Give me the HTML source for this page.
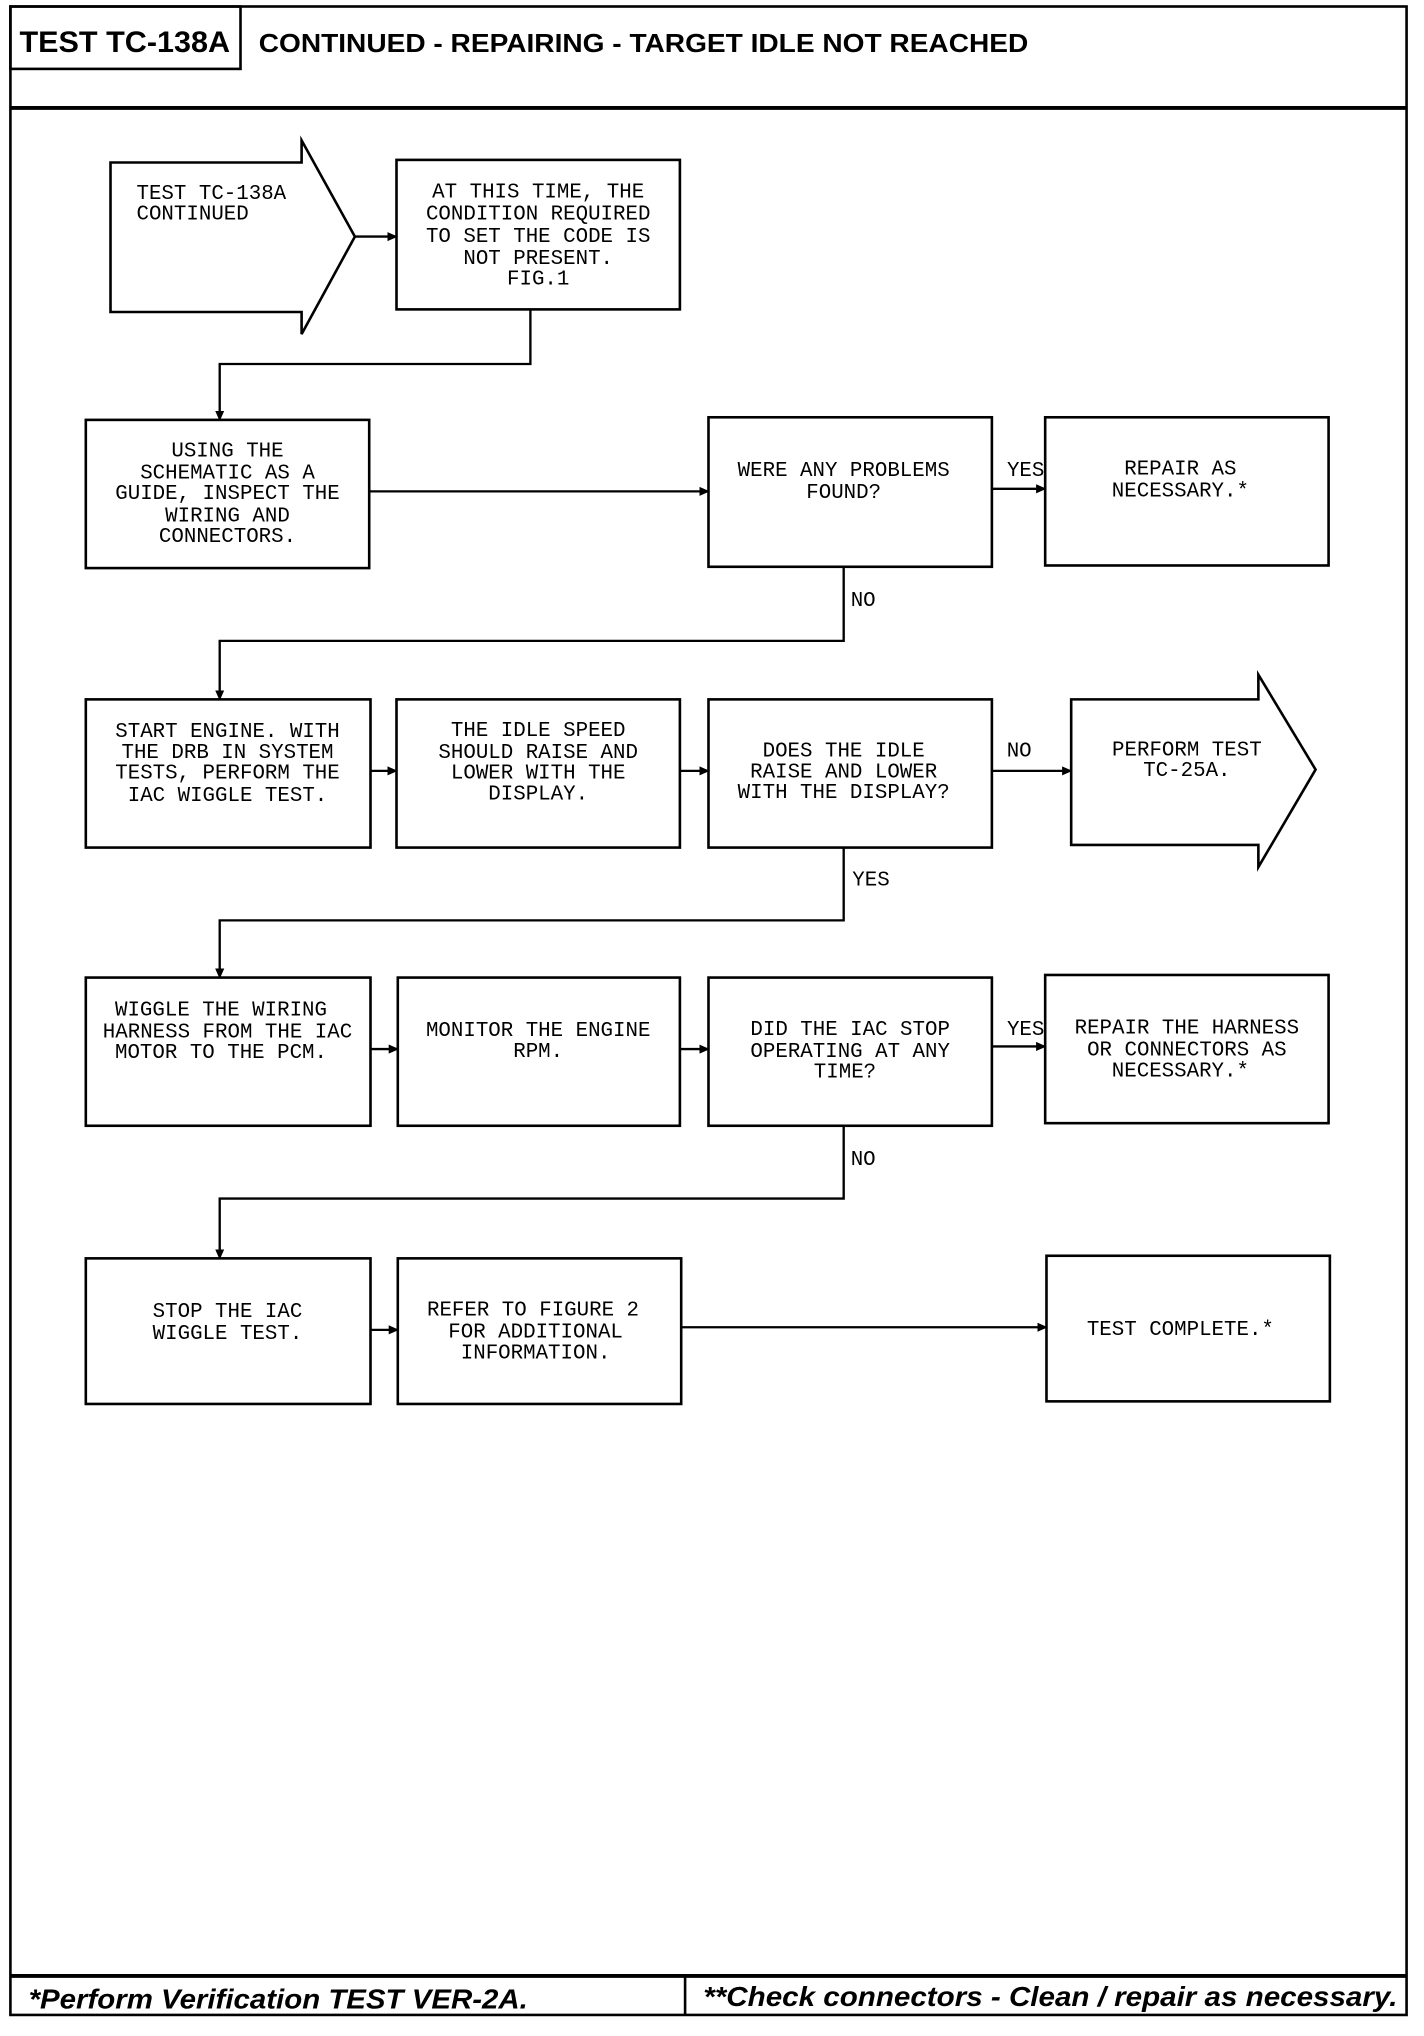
<!DOCTYPE html>
<html><head><meta charset="utf-8"><style>
html,body{margin:0;padding:0;background:#fff;}
svg{display:block}
.b{fill:none;stroke:#000;stroke-width:2}
.l{fill:none;stroke:#000;stroke-width:1.8}
.t{font-family:"Liberation Mono",monospace;font-size:16px;fill:#000;text-anchor:middle}
.h{font-family:"Liberation Sans",sans-serif;font-weight:bold;fill:#000}
</style></head><body>
<svg width="1424" height="2036" viewBox="0 0 1095.4 1566.2" xmlns="http://www.w3.org/2000/svg">
<defs><marker id="a" markerWidth="8" markerHeight="8" refX="7" refY="4" orient="auto" markerUnits="userSpaceOnUse"><path d="M0,0.5 L8,4 L0,7.5 Z" fill="#000"/></marker></defs>
<!-- frame -->
<rect x="8" y="5" width="1074" height="1545" class="b"/>
<line x1="8" y1="83" x2="1082" y2="83" stroke="#000" stroke-width="3"/>
<rect x="8" y="5" width="177" height="48" class="b"/>
<text x="15" y="40" class="h" font-size="23" textLength="162" lengthAdjust="spacingAndGlyphs">TEST TC-138A</text>
<text x="199" y="40" class="h" font-size="20" textLength="592" lengthAdjust="spacingAndGlyphs">CONTINUED - REPAIRING - TARGET IDLE NOT REACHED</text>
<line x1="8" y1="1520" x2="1082" y2="1520" stroke="#000" stroke-width="3"/>
<line x1="527" y1="1520" x2="527" y2="1550" class="b"/>
<text x="22" y="1545" class="h" font-style="italic" font-size="21" textLength="384" lengthAdjust="spacingAndGlyphs">*Perform Verification TEST VER-2A.</text>
<text x="541" y="1543" class="h" font-style="italic" font-size="21" textLength="534" lengthAdjust="spacingAndGlyphs">**Check connectors - Clean / repair as necessary.</text>

<!-- row1 -->
<path d="M85,125 L232,125 L232,108 L273,182 L232,257 L232,240 L85,240 Z" class="b"/>
<text x="105" y="153" class="t" style="text-anchor:start">TEST TC-138A</text>
<text x="105" y="169" class="t" style="text-anchor:start">CONTINUED</text>
<line x1="273" y1="182" x2="305" y2="182" class="l" marker-end="url(#a)"/>
<rect x="305" y="123" width="218" height="115" class="b"/>
<text class="t"><tspan x="414" y="152">AT THIS TIME, THE</tspan><tspan x="414" y="169">CONDITION REQUIRED</tspan><tspan x="414" y="186">TO SET THE CODE IS</tspan><tspan x="414" y="203">NOT PRESENT.</tspan><tspan x="414" y="219">FIG.1</tspan></text>
<path d="M408,238 L408,280 L169,280 L169,323" class="l" marker-end="url(#a)"/>

<!-- row2 -->
<rect x="66" y="323" width="218" height="114" class="b"/>
<text class="t"><tspan x="175" y="351">USING THE</tspan><tspan x="175" y="368">SCHEMATIC AS A</tspan><tspan x="175" y="384">GUIDE, INSPECT THE</tspan><tspan x="175" y="401">WIRING AND</tspan><tspan x="175" y="417">CONNECTORS.</tspan></text>
<line x1="284" y1="378" x2="545" y2="378" class="l" marker-end="url(#a)"/>
<rect x="545" y="321" width="218" height="115" class="b"/>
<text class="t"><tspan x="649" y="366">WERE ANY PROBLEMS</tspan><tspan x="649" y="383">FOUND?</tspan></text>
<line x1="763" y1="376" x2="804" y2="376" class="l" marker-end="url(#a)"/>
<text x="789" y="366" class="t">YES</text>
<rect x="804" y="321" width="218" height="114" class="b"/>
<text class="t"><tspan x="908" y="365">REPAIR AS</tspan><tspan x="908" y="382">NECESSARY.*</tspan></text>
<path d="M649,436 L649,493 L169,493 L169,538" class="l" marker-end="url(#a)"/>
<text x="664" y="466" class="t">NO</text>

<!-- row3 -->
<rect x="66" y="538" width="219" height="114" class="b"/>
<text class="t"><tspan x="175" y="567">START ENGINE. WITH</tspan><tspan x="175" y="583">THE DRB IN SYSTEM</tspan><tspan x="175" y="599">TESTS, PERFORM THE</tspan><tspan x="175" y="616">IAC WIGGLE TEST.</tspan></text>
<line x1="285" y1="593" x2="305" y2="593" class="l" marker-end="url(#a)"/>
<rect x="305" y="538" width="218" height="114" class="b"/>
<text class="t"><tspan x="414" y="566">THE IDLE SPEED</tspan><tspan x="414" y="583">SHOULD RAISE AND</tspan><tspan x="414" y="599">LOWER WITH THE</tspan><tspan x="414" y="615">DISPLAY.</tspan></text>
<line x1="523" y1="593" x2="545" y2="593" class="l" marker-end="url(#a)"/>
<rect x="545" y="538" width="218" height="114" class="b"/>
<text class="t"><tspan x="649" y="582">DOES THE IDLE</tspan><tspan x="649" y="598">RAISE AND LOWER</tspan><tspan x="649" y="614">WITH THE DISPLAY?</tspan></text>
<line x1="763" y1="593" x2="824" y2="593" class="l" marker-end="url(#a)"/>
<text x="784" y="582" class="t">NO</text>
<path d="M824,538 L968,538 L968,519 L1012,592 L968,667 L968,650 L824,650 Z" class="b"/>
<text class="t"><tspan x="913" y="581">PERFORM TEST</tspan><tspan x="913" y="597">TC-25A.</tspan></text>
<path d="M649,652 L649,708 L169,708 L169,752" class="l" marker-end="url(#a)"/>
<text x="670" y="681" class="t">YES</text>

<!-- row4 -->
<rect x="66" y="752" width="219" height="114" class="b"/>
<text class="t"><tspan x="170" y="781">WIGGLE THE WIRING</tspan><tspan x="175" y="798">HARNESS FROM THE IAC</tspan><tspan x="170" y="814">MOTOR TO THE PCM.</tspan></text>
<line x1="285" y1="807" x2="306" y2="807" class="l" marker-end="url(#a)"/>
<rect x="306" y="752" width="217" height="114" class="b"/>
<text class="t"><tspan x="414" y="797">MONITOR THE ENGINE</tspan><tspan x="414" y="813">RPM.</tspan></text>
<line x1="523" y1="807" x2="545" y2="807" class="l" marker-end="url(#a)"/>
<rect x="545" y="752" width="218" height="114" class="b"/>
<text class="t"><tspan x="654" y="796">DID THE IAC STOP</tspan><tspan x="654" y="813">OPERATING AT ANY</tspan><tspan x="650" y="829">TIME?</tspan></text>
<line x1="763" y1="805" x2="804" y2="805" class="l" marker-end="url(#a)"/>
<text x="789" y="796" class="t">YES</text>
<rect x="804" y="750" width="218" height="114" class="b"/>
<text class="t"><tspan x="913" y="795">REPAIR THE HARNESS</tspan><tspan x="913" y="812">OR CONNECTORS AS</tspan><tspan x="908" y="828">NECESSARY.*</tspan></text>
<path d="M649,866 L649,922 L169,922 L169,968" class="l" marker-end="url(#a)"/>
<text x="664" y="896" class="t">NO</text>

<!-- row5 -->
<rect x="66" y="968" width="219" height="112" class="b"/>
<text class="t"><tspan x="175" y="1013">STOP THE IAC</tspan><tspan x="175" y="1030">WIGGLE TEST.</tspan></text>
<line x1="285" y1="1023" x2="306" y2="1023" class="l" marker-end="url(#a)"/>
<rect x="306" y="968" width="218" height="112" class="b"/>
<text class="t"><tspan x="410" y="1012">REFER TO FIGURE 2</tspan><tspan x="412" y="1029">FOR ADDITIONAL</tspan><tspan x="412" y="1045">INFORMATION.</tspan></text>
<line x1="524" y1="1021" x2="805" y2="1021" class="l" marker-end="url(#a)"/>
<rect x="805" y="966" width="218" height="112" class="b"/>
<text x="908" y="1027" class="t">TEST COMPLETE.*</text>
</svg>
</body></html>
